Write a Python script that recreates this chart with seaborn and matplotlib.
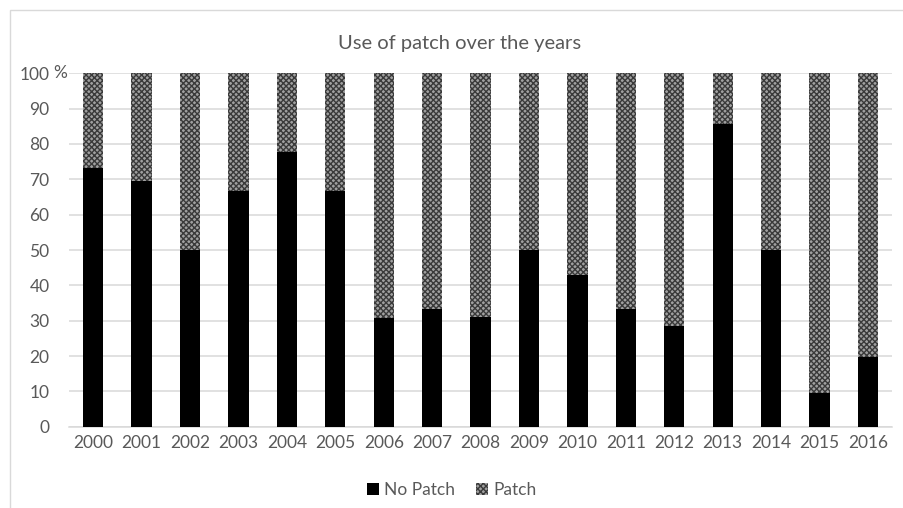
import numpy as np
import pandas as pd
import matplotlib
matplotlib.use("Agg")
import matplotlib.pyplot as plt
import seaborn as sns
from matplotlib.patches import Patch, Rectangle

years = ['2000', '2001', '2002', '2003', '2004', '2005', '2006', '2007', '2008',
         '2009', '2010', '2011', '2012', '2013', '2014', '2015', '2016']
no_patch = [73.3, 69.6, 50.0, 66.7, 77.8, 66.7, 30.8, 33.3, 31.1,
            50.0, 42.9, 33.3, 28.6, 85.7, 50.0, 9.4, 19.8]
patch = [100 - v for v in no_patch]
y_ticks = [0, 10, 20, 30, 40, 50, 60, 70, 80, 90, 100]
y_labels = ['0', '10', '20', '30', '40', '50', '60', '70', '80', '90', '100']

df = pd.DataFrame({'year': years, 'no_patch': no_patch, 'patch': patch})
df['total'] = df['no_patch'] + df['patch']

sns.set_style("white")
plt.rcParams['font.family'] = ['Lato', 'DejaVu Sans']
plt.rcParams['hatch.linewidth'] = 1.0
plt.rcParams['hatch.color'] = '#3a3a3a'

grey = '#595959'
patch_face = '#a0a0a0'

fig = plt.figure(figsize=(9.04, 5.08), dpi=100)
ax = fig.add_axes([0.0763, 0.16, 0.9107, 0.6957])

# patch share stacked on top of no patch share
sns.barplot(data=df, x='year', y='total', color=patch_face, width=0.42,
            saturation=1, ax=ax, zorder=2)
for bar in ax.patches:
    bar.set_facecolor(patch_face)
    bar.set_hatch('xxxxxx')
    bar.set_edgecolor('#3a3a3a')
    bar.set_linewidth(0)
n = len(ax.patches)
sns.barplot(data=df, x='year', y='no_patch', color='black', width=0.42,
            saturation=1, ax=ax, zorder=3)
for bar in ax.patches[n:]:
    bar.set_facecolor('black')
    bar.set_linewidth(0)

ax.set_ylim(0, 100)
ax.set_xlim(-0.5, len(years) - 0.5)
ax.set_yticks(y_ticks)
ax.set_yticklabels(y_labels)
ax.yaxis.grid(True, color='#d9d9d9', linewidth=1.1, zorder=0)
ax.set_axisbelow(True)
for s in ['top', 'right', 'left']:
    ax.spines[s].set_visible(False)
ax.spines['bottom'].set_color('#d9d9d9')
ax.spines['bottom'].set_linewidth(1.1)
ax.tick_params(axis='both', length=0, labelsize=12.5, colors=grey, pad=6)
ax.tick_params(axis='y', pad=14)
ax.set_xlabel('')
ax.set_ylabel('')
# percent sign hangs after the top label
ax.annotate('%', xy=(0, 1), xycoords='axes fraction', xytext=(-11.5, 0),
            textcoords='offset points', ha='left', va='center',
            fontsize=12.5, color=grey)

fig.text(0.508, 0.915, 'Use of patch over the years', ha='center', va='center',
         fontsize=14.5, color=grey)

handles = [Patch(facecolor='black', edgecolor='none', label='No Patch'),
           Patch(facecolor=patch_face, edgecolor='#3a3a3a', hatch='xxxxxx',
                 linewidth=0, label='Patch')]
fig.legend(handles=handles, loc='center', bbox_to_anchor=(0.5, 0.035), ncol=2,
           frameon=False, fontsize=12.5, labelcolor=grey, handlelength=0.7,
           handleheight=0.7, handletextpad=0.3, columnspacing=1.2)

fig.patches.append(Rectangle((0.011, -0.1), 1.2, 1.08, transform=fig.transFigure,
                             fill=False, edgecolor='#d9d9d9', linewidth=1))

fig.savefig('out.png', dpi=100)
